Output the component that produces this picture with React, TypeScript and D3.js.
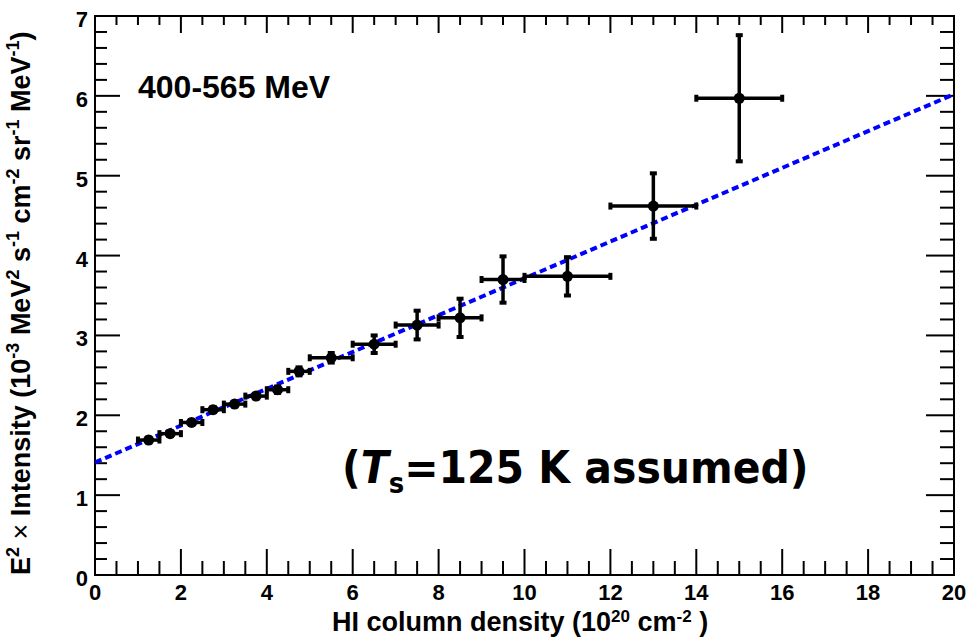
import React from "react";
import * as d3 from "d3";

const hiDensity = [1.25, 1.75, 2.25, 2.75, 3.25, 3.75, 4.25, 4.75, 5.5, 6.5, 7.5, 8.5, 9.5, 11, 13, 15];
const hiHalfWidth = [0.25, 0.25, 0.25, 0.25, 0.25, 0.25, 0.25, 0.25, 0.5, 0.5, 0.5, 0.5, 0.5, 1, 1, 1];
const intensity = [1.69, 1.77, 1.91, 2.07, 2.14, 2.24, 2.32, 2.55, 2.72, 2.89, 3.13, 3.22, 3.7, 3.74, 4.62, 5.97];
const intensityErr = [0.03, 0.03, 0.03, 0.03, 0.03, 0.03, 0.04, 0.05, 0.06, 0.11, 0.18, 0.24, 0.29, 0.24, 0.41, 0.79];
const fitX = [0, 20];
const fitY = [1.41, 6.02];
const xTicks = [0, 2, 4, 6, 8, 10, 12, 14, 16, 18, 20];
const yTicks = [0, 1, 2, 3, 4, 5, 6, 7];

const W = 970, H = 638;
const L = 95, R = 954, T = 16, B = 575;

export default function App() {
  const x = d3.scaleLinear().domain([0, 20]).range([L, R]);
  const y = d3.scaleLinear().domain([0, 7]).range([B, T]);
  const xMinor = d3.range(0, 20.001, 0.5);
  const yMinor = d3.range(0, 7.001, 0.2);
  const line = d3.line<number>().x((d) => x(fitX[d])).y((d) => y(fitY[d]));
  const font = "'Liberation Sans', Arial, Helvetica, sans-serif";
  const cap = 3.5;
  return (
    <svg width={W} height={H} style={{ position: "absolute", left: 0, top: 0, background: "#fff" }}>
      <defs>
        <clipPath id="frame">
          <rect x={L} y={T} width={R - L} height={B - T} />
        </clipPath>
      </defs>
      {/* ticks */}
      <g stroke="#000" strokeWidth={2}>
        {xMinor.map((v, i) => {
          const major = Math.abs(v / 2 - Math.round(v / 2)) < 1e-6;
          return (
            <g key={"xt" + i}>
              <line x1={x(v)} x2={x(v)} y1={B} y2={B - (major ? 26 : 14)} />
              <line x1={x(v)} x2={x(v)} y1={T} y2={T + (major ? 17 : 9)} />
            </g>
          );
        })}
        {yMinor.map((v, i) => {
          const major = Math.abs(v - Math.round(v)) < 1e-6;
          return (
            <g key={"yt" + i}>
              <line y1={y(v)} y2={y(v)} x1={L} x2={L + (major ? 25 : 12)} />
              <line y1={y(v)} y2={y(v)} x1={R} x2={R - (major ? 28 : 14)} />
            </g>
          );
        })}
      </g>
      <rect x={L} y={T} width={R - L} height={B - T} fill="none" stroke="#000" strokeWidth={2} />
      {/* fit line */}
      <path
        d={line([0, 1]) || ""}
        clipPath="url(#frame)"
        fill="none"
        stroke="#0000ff"
        strokeWidth={4}
        strokeDasharray="7,4"
      />
      {/* data */}
      <g stroke="#000" fill="#000">
        {hiDensity.map((d, i) => {
          const cx = x(d), cy = y(intensity[i]);
          const x0 = x(d - hiHalfWidth[i]), x1 = x(d + hiHalfWidth[i]);
          const y0 = y(intensity[i] - intensityErr[i]), y1 = y(intensity[i] + intensityErr[i]);
          return (
            <g key={"p" + i}>
              <line x1={x0} x2={x1} y1={cy} y2={cy} strokeWidth={3.5} />
              <line x1={cx} x2={cx} y1={y0} y2={y1} strokeWidth={3.5} />
              <line x1={x0} x2={x0} y1={cy - cap} y2={cy + cap} strokeWidth={4} />
              <line x1={x1} x2={x1} y1={cy - cap} y2={cy + cap} strokeWidth={4} />
              <line x1={cx - cap} x2={cx + cap} y1={y0} y2={y0} strokeWidth={4} />
              <line x1={cx - cap} x2={cx + cap} y1={y1} y2={y1} strokeWidth={4} />
              <circle cx={cx} cy={cy} r={5.5} stroke="none" />
            </g>
          );
        })}
      </g>
      {/* tick labels */}
      <g fontFamily={font} fontWeight="bold" fontSize={22} fill="#000">
        {xTicks.map((v) => (
          <text key={"xl" + v} x={x(v)} y={600} textAnchor="middle">{v}</text>
        ))}
        {yTicks.map((v) => (
          <text key={"yl" + v} x={88} y={y(v) + 11} textAnchor="end">{v}</text>
        ))}
      </g>
      {/* axis titles */}
      <text x={332} y={631} fontFamily={font} fontWeight="bold" fontSize={27} fill="#000">
        HI column density (10<tspan fontSize={17} dy={-9}>20</tspan>
        <tspan dy={9}> cm</tspan>
        <tspan fontSize={17} dy={-9}>-2</tspan>
        <tspan dy={9}> )</tspan>
      </text>
      <text
        transform={`translate(30,575) rotate(-90)`}
        fontFamily={font}
        fontWeight="bold"
        fontSize={27}
        fill="#000"
      >
        E<tspan fontSize={18} dy={-11}>2</tspan>
        <tspan dy={11} fontWeight="normal"> × </tspan>
        <tspan>Intensity (10</tspan>
        <tspan fontSize={18} dy={-11}>-3</tspan>
        <tspan dy={11}> MeV</tspan>
        <tspan fontSize={18} dy={-11}>2</tspan>
        <tspan dy={11}> s</tspan>
        <tspan fontSize={18} dy={-11}>-1</tspan>
        <tspan dy={11}> cm</tspan>
        <tspan fontSize={18} dy={-11}>-2</tspan>
        <tspan dy={11}> sr</tspan>
        <tspan fontSize={18} dy={-11}>-1</tspan>
        <tspan dy={11}> MeV</tspan>
        <tspan fontSize={18} dy={-11}>-1</tspan>
        <tspan dy={11}>)</tspan>
      </text>
      {/* annotations */}
      <text x={138} y={98} fontFamily={font} fontWeight="bold" fontSize={32} fill="#000">
        400-565 MeV
      </text>
      <text
        transform="translate(342,483) scale(1,1.1)"
        fontFamily="'Comic Sans MS', 'DejaVu Sans', sans-serif"
        fontWeight="bold"
        fontSize={41}
        fill="#000"
      >
        (<tspan fontStyle="italic">T</tspan>
        <tspan fontSize={26} dy={9}>s</tspan>
        <tspan dy={-9}>=125 K assumed)</tspan>
      </text>
    </svg>
  );
}
